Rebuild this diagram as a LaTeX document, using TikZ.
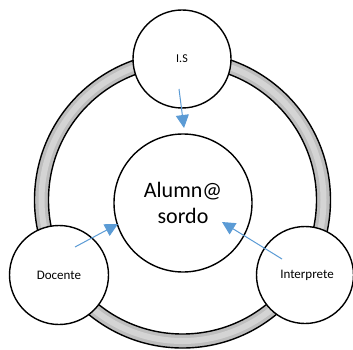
\documentclass[tikz,border=0pt]{standalone}
\usepackage{fontspec}
\setmainfont{Carlito}
\usetikzlibrary{arrows.meta}
\definecolor{arrowblue}{RGB}{91,155,213}
\definecolor{bandgray}{RGB}{190,190,190}
\definecolor{bandlight}{RGB}{212,212,212}
\begin{document}
\begin{tikzpicture}[x=1pt,y=-1pt,
  bubble/.style={circle,draw=black,line width=1.4pt,fill=white,inner sep=0pt},
  conn/.style={draw=arrowblue,line width=1pt,-{Triangle[length=13pt,width=13pt]}}]
\useasboundingbox (0,0) rectangle (353,350);
% ring
\coordinate (R) at (182.5,200);
\draw[bandgray,line width=14pt] (R) circle[radius=141];
\draw[bandlight,line width=6pt] (R) circle[radius=141];
\draw[black,line width=1.4pt] (R) circle[radius=148];
\draw[black,line width=1.4pt] (R) circle[radius=134];
% nodes
\node[bubble,minimum size=138pt,font=\fontsize{22}{26}\selectfont,align=center] (C) at (183,203) {Alumn@\\sordo};
\node[bubble,minimum size=98pt,font=\fontsize{12}{14}\selectfont] (IS) at (182,59) {I.S};
\node[bubble,minimum size=99pt,font=\fontsize{13}{15}\selectfont] (D) at (59,275) {Docente};
\node[bubble,minimum size=97pt,font=\fontsize{13}{15}\selectfont] (I) at (305,275) {\hspace*{4pt}Interprete};
% arrow endpoints
\coordinate (isS) at (179,89);
\coordinate (isE) at (184,128);
\coordinate (dS) at (75,247);
\coordinate (dE) at (118,224);
\coordinate (iS) at (282,259);
\coordinate (iE) at (222,222);
\draw[conn] (isS) -- (isE);
\draw[conn] (dS) -- (dE);
\draw[conn] (iS) -- (iE);
\end{tikzpicture}
\end{document}
